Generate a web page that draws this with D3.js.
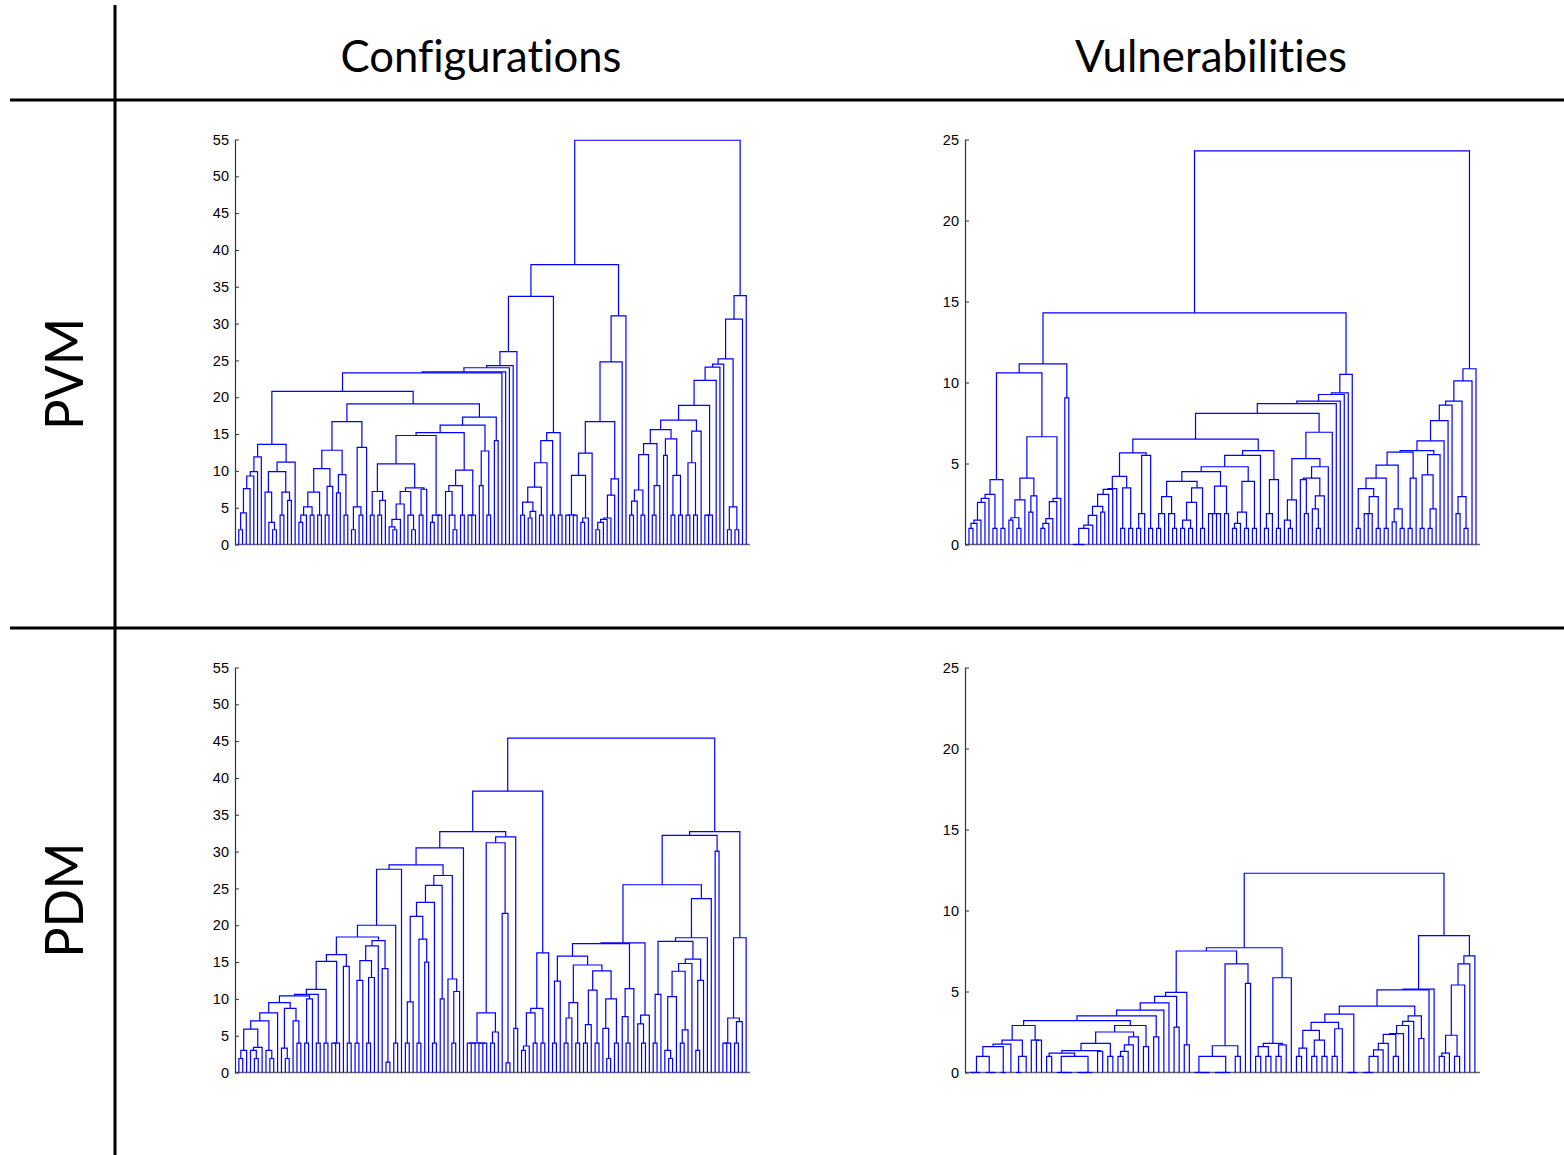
<!DOCTYPE html>
<html lang="en">
<head>
<meta charset="utf-8">
<title>Dendrograms: PVM / PDM</title>
<script src="https://cdn.jsdelivr.net/npm/d3@7"></script>
<style>
  body { margin: 0; background: #fff; }
  svg { display: block; }
</style>
</head>
<body>
<script>

// header labels
var colLabels = ["Configurations", "Vulnerabilities"];
var rowLabels = ["PVM", "PDM"];

// y tick values
var configTicks = [0, 5, 10, 15, 20, 25, 30, 35, 40, 45, 50, 55];
var vulnTicks = [0, 5, 10, 15, 20, 25];

// trees: [height, left, right], a leaf is 0

// PVM / configurations
var pvmConfA = [13.6,
  [11.9, [9.9, [9.3, [7.6, [4.3, [2.0,0,0], 0], 0], 0], 0], 0],
  [11.2, [9.9, [7.1, 0, [3.0, 0, [2.0,0,0]]], [7.1, [4.0,0,0], [6.0,0,0]]], 0]];
var pvmConfB = [19.1,
  [16.7,
    [12.8,
      [10.3, [7.1, [5.1, [4.0, [3.0,0,0], 0], [4.0,0,0]], [4.0,0,0]], [7.9, [4.0,0,0], 0]],
      [9.5, [7.0,0,0], [4.0,0,0]]],
    [13.2, [5.1, [2.0,0,0], [4.0,0,0]], 0]],
  [17.3,
    [16.2,
      [15.2,
        [14.8,
          [10.95, [7.2, [4.0,0,0], [6.0, [4.0,0,0], 0]],
            [7.7, [7.2, [5.5, [3.4, [2.4, 0, [2.0,0,0]], 0], 0], [4.0, 0, [2.0,0,0]]], [7.5, [4.0,0,0], 0]]],
          [4.0, [3.0,0,0], [4.0,0,0]]],
        [10.1, [8.0, [7.2, 0, [4.0, 0, [2.0,0,0]]], [4.0,0,0]], [4.0, [4.0,0,0], 0]]],
      [12.7, [8.0,0,0], [4.0,0,0]]],
    [14.1, 0, 0]]];
var pvmConfL1b = [15.2, [14.1, [11.1, [7.8, [5.75, [4.0,0,0], [4.5, [3.6,0,0], 0]], [4.0,0,0]], 0], [4.0,0,0]], [4.0,0,0]];
var pvmConfL2 = [31.05, [24.8, [16.7,
    [12.4, [9.4, [4.0, [4.0,0,0], [4.0,0,0]], [3.6, [3.0,0,0], 0]], 0],
    [8.9, [6.7, [3.6, [3.4, [3.0, [2.0,0,0], 0], 0], 0], 0], 0]], 0], 0];
var pvmConfR = [33.8, [30.6, [25.2, [24.5, [24.1, [22.3,
    [18.9,
      [16.9,
        [15.6, [13.7, [12.2, [7.4, [5.9, [4.0,0,0], 0], [4.0,0,0]], 0], [8.0, [4.0,0,0], 0]],
               [14.35, [12.1,0,0], [9.4, [4.0,0,0], [4.0,0,0]]]],
        [15.4, [11.1, [4.0,0,0], [4.0,0,0]], 0]],
      [4.0, [4.0,0,0], 0]],
    0], 0], 0], [5.1, [2.0,0,0], [2.0,0,0]]], 0], 0];
var pvmConfigTree = [54.9,
  [38.0, [33.7, [26.2, [24.3, [24.0, [23.45, [23.3, [20.8, pvmConfA, pvmConfB], 0], 0], 0], 0], 0], pvmConfL1b], pvmConfL2],
  pvmConfR];

// PVM / vulnerabilities
var pvmVulnLeft = [11.15,
  [10.6,
    [4.0, [3.1, [2.85, [2.6, [1.5, [1.3, [1.0,0,0], 0], 0], 0], 0], [1.0,0,0]], [1.0,0,0]],
    [6.65, [4.1, [2.75, [1.65, [1.5,0,0], [1.0,0,0]], 0], [3.0, [2.0,0,0], 0]],
           [2.85, [2.65, [1.6, [1.3, [1.0,0,0], 0], 0], 0], 0]]],
  [9.05, 0, 0]];
var pvmVulnA = [5.65,
  [4.2, [3.45, [3.4, [3.1, [2.35, [1.8, [1.2, [1.0, [0, [0,0,0], [0,0,0]], 0], 0], 0], [2.0,0,0]], 0], 0], 0],
        [3.5, [1.0,0,0], [1.0,0,0]]],
  [5.5, [1.9, [1.0,0,0], 0], [1.0,0,0]]];
var pvmVulnB = [5.8,
  [5.5,
    [4.8,
      [4.5,
        [3.9, [2.95, [1.9, [1.0,0,0], 0], [1.9, 0, [1.0,0,0]]], [3.5, [2.6, [1.5, [1.0,0,0], [1.0,0,0]], 0], [1.0,0,0]]],
        [3.6, [1.9, [1.9,0,0], [1.9,0,0]], [1.9,0,0]]],
      [3.9, [2.0, [1.3, [1.0,0,0], 0], [1.0,0,0]], [1.0,0,0]]],
    0],
  [4.0, [1.9, [1.0,0,0], 0], [1.0,0,0]]];
var pvmVulnY = [6.93,
  [5.3, [2.75, [1.5, 0, [1.0,0,0]], 0],
        [4.8, [4.1, [4.0, 0, [1.9,0,0]], [3.0, [2.2, 0, [1.0,0,0]], 0]], 0]],
  0];
var pvmVulnRight = [10.85, [10.1, [8.85, [8.6, [7.65, [6.4, [5.8,
      [5.7, [4.9, [4.1, [3.45, [1.0,0,0], [2.95, [1.9, [1.9,0,0], 0], [1.0,0,0]]], [1.0,0,0]],
                  [2.2, [1.4,0,0], [1.0,0,0]]],
            [4.1, [1.0,0,0], 0]],
      [5.55, [4.3, [1.0,0,0], [2.2, [1.0,0,0], 0]], 0]],
    0], 0], 0], [2.95, [1.9,0,0], [1.0,0,0]]], 0], 0];
var pvmVulnTree = [24.3,
  [14.3, pvmVulnLeft,
    [10.5, [9.36, [9.26, [8.85, [8.7, [8.1, [6.5, pvmVulnA, pvmVulnB], pvmVulnY], 0], 0], 0], 0], 0]],
  pvmVulnRight];

// PDM / configurations
var pdmConfStairs = [27.6, [20.0, [18.4, [16.0, [15.1, [11.3, [10.6, [10.4, [9.5, [8.1, [7.0,
    [5.9, [3.0, [1.9,0,0], 0], [3.4, [3.0, 0, [1.9,0,0]], 0]],
    [3.0, 0, [1.9,0,0]]], 0],
    [8.7, [3.3, 0, [1.9,0,0]], [7.0, 0, [4.0,0,0]]]],
    [10.0, [4.0,0,0], 0]],
    [4.0,0,0]],
    [4.0,0,0]],
    [4.0, [4.0,0,0], 0]],
    [14.4, 0, [4.0,0,0]]],
    [17.9, [17.2, [15.2, [12.5, [4.0,0,0], 0], [12.9, [4.0,0,0], 0]], 0], [14.1, 0, [1.4,0,0]]]],
    [4.0,0,0]], 0];
var pdmConf26 = [26.75,
  [25.4, [23.1, [21.2, [9.6, [4.0,0,0], 0], [18.1, [4.0,0,0], [15.0,0,0]]], [4.0,0,0]], [10.0,0,0]],
  [12.7, 0, [11.0, [4.0,0,0], 0]]];
var pdmConf32 = [32.0,
  [31.2, [8.1, [4.0, [4.0, [4.0,0,0], 0], [4.0, 0, [4.0,0,0]]], [5.5, [4.0,0,0], 0]], [21.6, 0, [1.3,0,0]]],
  [6.0, 0, 0]];
var pdmConf16 = [16.25, [8.7, [8.1, [3.6, [3.0,0,0], 0], [4.0,0,0]], [4.0,0,0]], 0];
var pdmConfQ = [17.6,
  [17.5,
    [15.8, [12.4, [4.0,0,0], 0],
      [14.6, [9.5, [7.4, [4.0,0,0], 0], [4.0,0,0]],
             [13.8, [11.2, [6.5, [4.0,0,0], 0], [4.0,0,0]], [10.0, [6.0, 0, [1.9,0,0]], [4.0,0,0]]]]],
    [11.4, [7.6, 0, [4.0,0,0]], 0]],
  [7.8, [6.6, 0, [4.0,0,0]], 0]];
var pdmConfN = [23.6, [18.3, [17.8, [10.6, [4.0,0,0], 0],
    [15.4, [14.8, [13.75, [10.3, [3.0, 0, [1.9,0,0]], 0], [5.8, [4.0,0,0], 0]], 0], [12.5, [3.0,0,0], 0]]], 0], 0];
var pdmConfigTree = [45.4,
  [38.2, [32.7, [30.5, [28.2, pdmConfStairs, pdmConf26], 0], pdmConf32], pdmConf16],
  [32.7, [32.2, [25.5, pdmConfQ, pdmConfN], [30.05, 0, 0]],
         [18.3, [7.4, [4.0, [4.0,0,0], 0], [6.9, [4.0,0,0], 0]], 0]]];

// PDM / vulnerabilities
var pdmVulnStairs = [2.9,
  [2.0, [1.75, [1.6, [1.0, [0, [0,0,0], 0], [0, 0, [0,0,0]]], [0,0,0]], 0], [1.0, [0,0,0], 0]],
  [2.0, 0, [2.0,0,0]]];
var pdmVulnMid = [2.9,
  [2.5, [1.8, [1.35, [1.2, [1.0,0,0], [1.0, [0, 0, [0, 0, [0,0,0]]], [0, [0, [0,0,0], 0], 0]]], [1.3,0,0]], [1.0,0,0]],
        [2.2, [1.7, [1.3, [1.0,0,0], 0], 0], 0]],
  [1.6, 0, 0]];
var pdmVulnL1 = [7.5,
  [4.95, [4.7, [4.3, [3.85, [3.5, [3.2, pdmVulnStairs, pdmVulnMid], [2.2,0,0]], 0], 0], [2.8,0,0]], [1.7,0,0]],
  [6.7, [1.65, [1.0, [0, 0, [0, 0, [0,0,0]]], [0, [0, [0,0,0], 0], 0]], [1.0,0,0]], [5.5,0,0]]];
var pdmVulnL2 = [5.85, [1.8, [1.6, [1.0,0,0], [1.0,0,0]], [1.7, [1.0,0,0], 0]], 0];
var pdmVulnR1 = [4.1,
  [3.6, [3.1, [2.6, [1.5, [1.0,0,0], 0], [2.0, [1.0,0,0], [1.0,0,0]]], [2.7, [1.0,0,0], 0]], [0, [0,0,0], 0]],
  [3.5, [3.15, [2.9, [2.4, [2.35, [1.8, [1.4, [1.0, [0, [0,0,0], 0], 0], 0], 0], [1.0,0,0]], 0], 0], 0], [2.1,0,0]]];
var pdmVulnR2 = [7.2, [6.7, [5.4, [2.3, [1.2, [1.0,0,0], 0], [1.0,0,0]], 0], 0], 0];
var pdmVulnTree = [12.3, [7.7, pdmVulnL1, pdmVulnL2], [8.45, [5.15, [5.1, pdmVulnR1, 0], 0], pdmVulnR2]];


// layout
var w = 1564, h = 1155;
var panels = [
  { tree: pvmConfigTree, ticks: configTicks, max: 55, x0: 235, x1: 750, y0: 544.5, y1: 139.5 },
  { tree: pvmVulnTree,   ticks: vulnTicks,   max: 25, x0: 965, x1: 1480, y0: 544.5, y1: 139.5 },
  { tree: pdmConfigTree, ticks: configTicks, max: 55, x0: 235, x1: 750, y0: 1072.5, y1: 667.5 },
  { tree: pdmVulnTree,   ticks: vulnTicks,   max: 25, x0: 965, x1: 1480, y0: 1072.5, y1: 667.5 }
];

var svg = d3.select("body").append("svg")
  .attr("width", w)
  .attr("height", h);

// table rules
svg.append("line").attr("x1", 115).attr("y1", 5).attr("x2", 115).attr("y2", h)
  .attr("stroke", "#000").attr("stroke-width", 3);
[100, 628].forEach(function(yy) {
  svg.append("line").attr("x1", 10).attr("y1", yy).attr("x2", w).attr("y2", yy)
    .attr("stroke", "#000").attr("stroke-width", 3);
});

// column headers
var colPos = [{ x: 481, len: 281 }, { x: 1211, len: 272 }];
svg.selectAll("text.col")
  .data(colLabels)
  .enter()
  .append("text")
  .attr("class", "col")
  .attr("x", function(d, i) { return colPos[i].x; })
  .attr("y", 72)
  .attr("text-anchor", "middle")
  .attr("font-family", "Lato, 'DejaVu Sans', sans-serif")
  .attr("font-size", 45)
  .attr("textLength", function(d, i) { return colPos[i].len; })
  .attr("lengthAdjust", "spacingAndGlyphs")
  .style("font-variant-ligatures", "none")
  .text(function(d) { return d; });

// row headers, rotated
var rowPos = [{ y: 374, len: 112 }, { y: 900, len: 115 }];
svg.selectAll("text.row")
  .data(rowLabels)
  .enter()
  .append("text")
  .attr("class", "row")
  .attr("transform", function(d, i) { return "translate(83," + rowPos[i].y + ") rotate(-90)"; })
  .attr("text-anchor", "middle")
  .attr("font-family", "Lato, 'DejaVu Sans', sans-serif")
  .attr("font-size", 53)
  .attr("textLength", function(d, i) { return rowPos[i].len; })
  .attr("lengthAdjust", "spacingAndGlyphs")
  .text(function(d) { return d; });

var childrenOf = function(d) { return Array.isArray(d) ? [d[1], d[2]] : null; };

var drawPanel = function(p) {
  var root = d3.hierarchy(p.tree, childrenOf);
  var leaves = root.leaves();
  leaves.forEach(function(l, i) { l.pos = i + 1; });
  root.eachAfter(function(n) {
    if (n.children) {
      n.ht = n.data[0];
      n.pos = (n.children[0].pos + n.children[1].pos) / 2;
    } else {
      n.ht = 0;
    }
  });

  var xScale = d3.scaleLinear().domain([0, leaves.length + 1]).range([p.x0, p.x1]);
  var yScale = d3.scaleLinear().domain([0, p.max]).range([p.y0, p.y1]);

  var g = svg.append("g");

  // x axis line (no ticks)
  g.append("line")
    .attr("x1", p.x0).attr("x2", p.x1)
    .attr("y1", p.y0).attr("y2", p.y0)
    .attr("stroke", "#666").attr("stroke-width", 1.3);

  // y axis
  var ax = g.append("g")
    .attr("transform", "translate(" + p.x0 + ",0)")
    .call(d3.axisLeft(yScale).tickValues(p.ticks).tickSizeInner(-4).tickSizeOuter(0).tickPadding(6));
  ax.attr("font-family", "'Liberation Sans', Arial, sans-serif").attr("font-size", 14.5);
  ax.select(".domain").attr("stroke", "#333").attr("stroke-width", 1.2);
  ax.selectAll(".tick line").attr("stroke", "#333");
  ax.selectAll(".tick text").attr("fill", "#000");

  // links
  g.selectAll("path.link")
    .data(root.descendants().filter(function(n) { return n.children; }))
    .enter()
    .append("path")
    .attr("class", "link")
    .attr("d", function(n) {
      var a = n.children[0], b = n.children[1];
      return "M" + xScale(a.pos) + "," + yScale(a.ht) +
             "V" + yScale(n.ht) +
             "H" + xScale(b.pos) +
             "V" + yScale(b.ht);
    })
    .attr("fill", "none")
    .attr("stroke", "#0000ff")
    .attr("stroke-width", 1.2);
};

panels.forEach(drawPanel);

</script>
</body>
</html>
